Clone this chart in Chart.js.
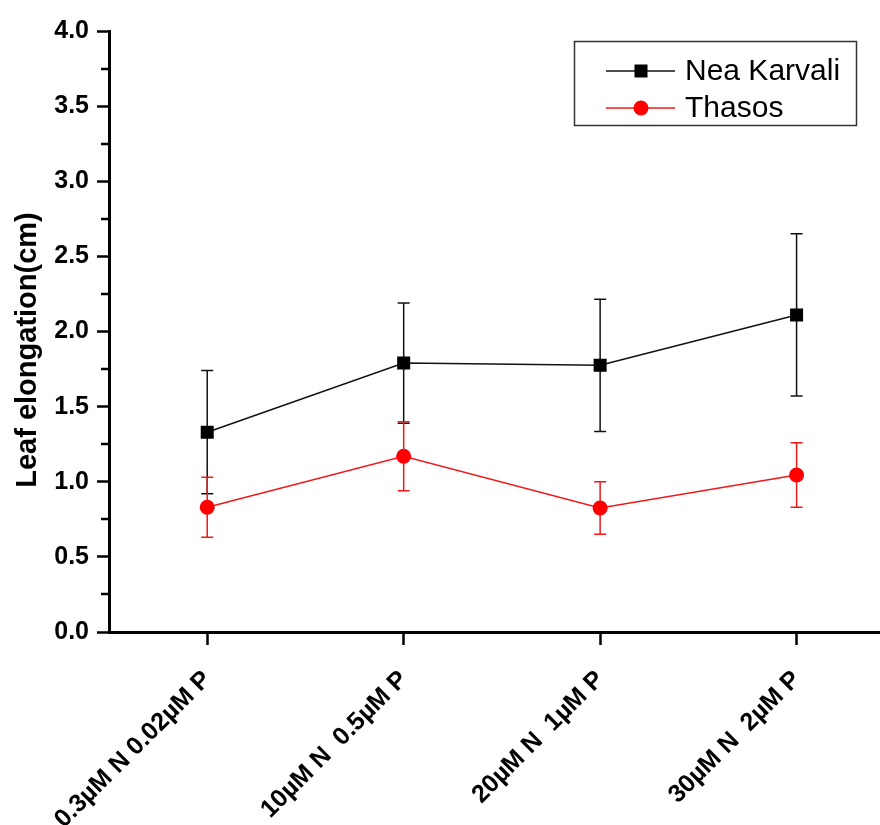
<!DOCTYPE html>
<html>
<head>
<meta charset="utf-8">
<script src="https://cdn.jsdelivr.net/npm/chart.js@4.4.1/dist/chart.umd.min.js"></script>
<style>
  html, body { margin: 0; padding: 0; background: #fff; overflow: hidden; }
  #wrap { width: 880px; height: 825px; position: relative; overflow: hidden; }
  #c { display: block; }
</style>
</head>
<body>
<div id="wrap"><canvas id="c" width="904" height="825"></canvas></div>
<script>
const categories = ['0.3\u00b5M N 0.02\u00b5M P', '10\u00b5M N  0.5\u00b5M P', '20\u00b5M N  1\u00b5M P', '30\u00b5M N  2\u00b5M P'];
const neaKarvali = [1.33, 1.79, 1.775, 2.11];
const neaKarvaliErr = [0.41, 0.40, 0.44, 0.54];
const thasos = [0.83, 1.17, 0.825, 1.045];
const thasosErr = [0.20, 0.23, 0.175, 0.215];
const yMin = 0, yMax = 4, yStep = 0.5, yMinorStep = 0.25;
const yTitle = 'Leaf elongation(cm)';

const FONT = '"Liberation Sans", Arial, Helvetica, sans-serif';

const errorBars = {
  id: 'errorBars',
  beforeDatasetsDraw(chart) {
    const ctx = chart.ctx, ys = chart.scales.y;
    chart.data.datasets.forEach((ds, i) => {
      const meta = chart.getDatasetMeta(i);
      if (!ds.errors) return;
      ctx.save();
      ctx.strokeStyle = ds.errColor;
      ctx.lineWidth = 1.5;
      meta.data.forEach((pt, j) => {
        const x = pt.x;
        const hi = ys.getPixelForValue(ds.data[j] + ds.errors[j]);
        const lo = ys.getPixelForValue(ds.data[j] - ds.errors[j]);
        ctx.beginPath();
        ctx.moveTo(x, hi); ctx.lineTo(x, lo);
        ctx.moveTo(x - 6, hi); ctx.lineTo(x + 6, hi);
        ctx.moveTo(x - 6, lo); ctx.lineTo(x + 6, lo);
        ctx.stroke();
      });
      ctx.restore();
    });
  }
};

const extras = {
  id: 'extras',
  afterDraw(chart) {
    const ctx = chart.ctx, ys = chart.scales.y, area = chart.chartArea;
    ctx.save();
    // minor ticks
    ctx.strokeStyle = '#000';
    ctx.lineWidth = 2.5;
    for (let v = yMin + yMinorStep; v < yMax; v += yStep) {
      const y = Math.round(ys.getPixelForValue(v));
      ctx.beginPath();
      ctx.moveTo(area.left - 8, y); ctx.lineTo(area.left, y);
      ctx.stroke();
    }
    // y title
    ctx.fillStyle = '#000';
    ctx.font = 'bold 29px ' + FONT;
    ctx.textAlign = 'center';
    ctx.textBaseline = 'middle';
    ctx.translate(28, 350);
    ctx.rotate(-Math.PI / 2);
    ctx.fillText(yTitle, 0, 0);
    ctx.restore();

    // legend
    ctx.save();
    ctx.strokeStyle = '#333';
    ctx.lineWidth = 1.5;
    ctx.strokeRect(574.5, 41.5, 282, 84);
    const rows = [71, 108];
    chart.data.datasets.forEach((ds, i) => {
      const y = rows[i];
      ctx.strokeStyle = ds.borderColor;
      ctx.lineWidth = 1.5;
      ctx.beginPath(); ctx.moveTo(606, y); ctx.lineTo(675, y); ctx.stroke();
      ctx.fillStyle = ds.pointBackgroundColor;
      if (ds.pointStyle === 'rect') {
        ctx.fillRect(641 - 6.5, y - 6.5, 13, 13);
      } else {
        ctx.beginPath(); ctx.arc(641, y, 7.5, 0, Math.PI * 2); ctx.fill();
      }
      ctx.fillStyle = '#000';
      ctx.font = '30px ' + FONT;
      ctx.textAlign = 'left';
      ctx.textBaseline = 'middle';
      ctx.fillText(ds.label, 685, y + 1);
    });
    ctx.restore();
  }
};

new Chart(document.getElementById('c'), {
  type: 'line',
  data: {
    labels: categories,
    datasets: [
      {
        label: 'Nea Karvali',
        data: neaKarvali,
        errors: neaKarvaliErr,
        errColor: '#111',
        borderColor: '#111',
        borderWidth: 1.5,
        pointStyle: 'rect',
        pointRadius: 9.2,
        pointBackgroundColor: '#000',
        pointBorderColor: '#000',
        pointBorderWidth: 0,
        tension: 0
      },
      {
        label: 'Thasos',
        data: thasos,
        errors: thasosErr,
        errColor: '#f01818',
        borderColor: '#f01818',
        borderWidth: 1.5,
        pointStyle: 'circle',
        pointRadius: 7.5,
        pointBackgroundColor: '#ff0000',
        pointBorderColor: '#ff0000',
        pointBorderWidth: 0,
        tension: 0
      }
    ]
  },
  options: {
    responsive: false,
    maintainAspectRatio: false,
    devicePixelRatio: 1,
    animation: false,
    layout: { padding: { top: 31, right: 0, bottom: 0, left: 0 } },
    plugins: { legend: { display: false }, tooltip: { enabled: false } },
    scales: {
      x: {
        type: 'category',
        offset: true,
        afterFit(scale) { scale.height = 825 - 632; },
        border: { display: true, color: '#000', width: 3 },
        grid: { display: true, drawOnChartArea: false, drawTicks: true, tickLength: 13, tickWidth: 2.5, tickColor: '#000', offset: false },
        ticks: {
          color: '#000',
          font: { family: FONT, size: 25, weight: 'bold' },
          maxRotation: 45, minRotation: 45,
          padding: 20,
          autoSkip: false
        }
      },
      y: {
        min: yMin, max: yMax,
        afterFit(scale) { scale.width = 109; },
        border: { display: true, color: '#000', width: 3 },
        grid: { display: true, drawOnChartArea: false, drawTicks: true, tickLength: 12, tickWidth: 2.5, tickColor: '#000' },
        ticks: {
          stepSize: yStep,
          color: '#000',
          font: { family: FONT, size: 25, weight: 'bold' },
          padding: 8,
          callback: v => Number(v).toFixed(1)
        }
      }
    }
  },
  plugins: [errorBars, extras]
});
</script>
</body>
</html>
